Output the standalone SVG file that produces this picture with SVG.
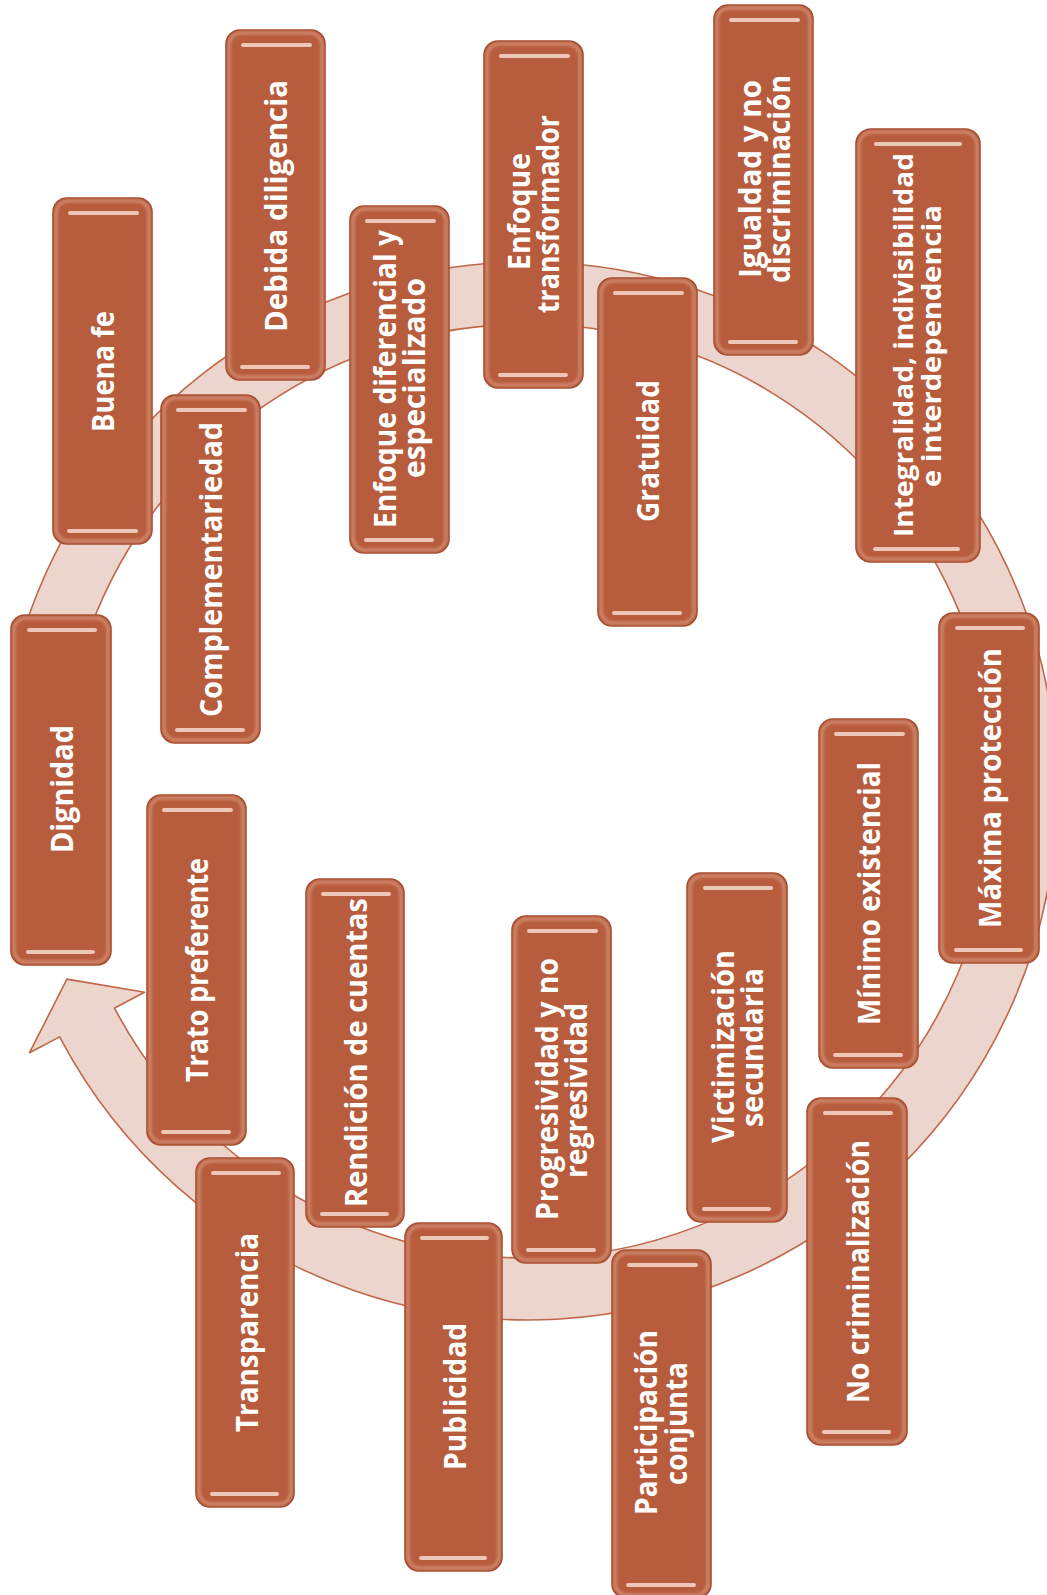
<svg xmlns="http://www.w3.org/2000/svg" width="1047" height="1595" viewBox="0 0 1047 1595">
<defs>
<filter id="soft" x="-10%" y="-10%" width="120%" height="120%"><feGaussianBlur stdDeviation="1.4"/></filter>
<filter id="hl" filterUnits="userSpaceOnUse" x="0" y="0" width="1047" height="1595"><feGaussianBlur stdDeviation="0.6"/></filter>
</defs>
<style>
.box{fill:#B75C3C;stroke:#A4472A;stroke-width:1.6}
.rim{fill:none;stroke:#E6AE97;stroke-width:3;opacity:0.6;filter:url(#soft)}
.hi{stroke:#F3D3C6;stroke-width:4;stroke-linecap:round;opacity:0.9;filter:url(#hl)}
.t{font-family:"Open Sans","Liberation Sans",sans-serif;font-weight:700;font-size:30px;fill:#FFFFFF;text-anchor:middle}
.ring{fill:#ECD5CC;stroke:#C0674A;stroke-width:1.6;stroke-linejoin:round}
</style>
<rect width="1047" height="1595" fill="#FFFFFF"/>
<g id="connectors">
<path class="ring" d="M 19.49 645.19 A 529 529 0 0 1 1025.10 610.07 A 529 529 0 0 1 59.63 1036.90 L 29.53 1052.70 L 66.92 979.16 L 144.63 992.28 L 114.52 1008.08 A 467 467 0 0 0 966.84 631.28 A 467 467 0 0 0 79.09 662.28 Z"/>
</g>

<g id="n-buena-fe">
<rect class="box" x="53" y="198" width="99" height="346" rx="14"/>
<rect class="rim" x="56" y="201" width="93" height="340" rx="12"/>
<line class="hi" x1="70" y1="213" x2="137" y2="213"/>
<line class="hi" x1="69" y1="531" x2="136" y2="531"/>
<g transform="translate(102,371.5) rotate(-90)"><text class="t" x="0" y="11.5" textLength="121" lengthAdjust="spacingAndGlyphs">Buena fe</text></g>
</g>

<g id="n-debida-diligencia">
<rect class="box" x="226" y="30" width="99" height="350" rx="14"/>
<rect class="rim" x="229" y="33" width="93" height="344" rx="12"/>
<line class="hi" x1="243" y1="45" x2="310" y2="45"/>
<line class="hi" x1="242" y1="367" x2="308" y2="367"/>
<g transform="translate(275.5,206) rotate(-90)"><text class="t" x="0" y="11.5" textLength="252" lengthAdjust="spacingAndGlyphs">Debida diligencia</text></g>
</g>

<g id="n-enfoque-diferencial">
<rect class="box" x="350" y="206" width="99" height="347" rx="14"/>
<rect class="rim" x="353" y="209" width="93" height="341" rx="12"/>
<line class="hi" x1="367" y1="221" x2="434" y2="221"/>
<line class="hi" x1="366" y1="540" x2="432" y2="540"/>
<g transform="translate(399.5,379) rotate(-90)"><text class="t" x="0" y="-3.5" textLength="298" lengthAdjust="spacingAndGlyphs">Enfoque diferencial y</text><text class="t" x="1" y="25.5" textLength="200" lengthAdjust="spacingAndGlyphs">especializado</text></g>
</g>

<g id="n-enfoque-transformador">
<rect class="box" x="484" y="41" width="99" height="347" rx="14"/>
<rect class="rim" x="487" y="44" width="93" height="341" rx="12"/>
<line class="hi" x1="501" y1="56" x2="568" y2="56"/>
<line class="hi" x1="500" y1="375" x2="566" y2="375"/>
<g transform="translate(533.5,213) rotate(-90)"><text class="t" x="1.5" y="-3.5" textLength="117" lengthAdjust="spacingAndGlyphs">Enfoque</text><text class="t" x="-1" y="25.5" textLength="198" lengthAdjust="spacingAndGlyphs">transformador</text></g>
</g>

<g id="n-igualdad">
<rect class="box" x="714" y="5" width="99" height="350" rx="14"/>
<rect class="rim" x="717" y="8" width="93" height="344" rx="12"/>
<line class="hi" x1="731" y1="20" x2="798" y2="20"/>
<line class="hi" x1="730" y1="342" x2="796" y2="342"/>
<g transform="translate(763.5,179) rotate(-90)"><text class="t" x="0" y="-2.5" textLength="198" lengthAdjust="spacingAndGlyphs">Igualdad y no</text><text class="t" x="0" y="26.5" textLength="208" lengthAdjust="spacingAndGlyphs">discriminación</text></g>
</g>

<g id="n-integralidad">
<rect class="box" x="856" y="129" width="124" height="433" rx="15"/>
<rect class="rim" x="859" y="132" width="118" height="427" rx="13"/>
<line class="hi" x1="876" y1="144" x2="960" y2="144"/>
<line class="hi" x1="875" y1="549" x2="958" y2="549"/>
<g transform="translate(918,345) rotate(-90)"><text class="t" style="font-size:27px" x="0" y="-5" textLength="384" lengthAdjust="spacingAndGlyphs">Integralidad, indivisibilidad</text><text class="t" style="font-size:27px" x="-1" y="23" textLength="282" lengthAdjust="spacingAndGlyphs">e interdependencia</text></g>
</g>

<g id="n-gratuidad">
<rect class="box" x="598" y="278" width="99" height="348" rx="14"/>
<rect class="rim" x="601" y="281" width="93" height="342" rx="12"/>
<line class="hi" x1="615" y1="293" x2="682" y2="293"/>
<line class="hi" x1="614" y1="613" x2="680" y2="613"/>
<g transform="translate(647.5,451) rotate(-90)"><text class="t" x="0" y="11.5" textLength="142" lengthAdjust="spacingAndGlyphs">Gratuidad</text></g>
</g>

<g id="n-complementariedad">
<rect class="box" x="161" y="395" width="99" height="348" rx="14"/>
<rect class="rim" x="164" y="398" width="93" height="342" rx="12"/>
<line class="hi" x1="178" y1="410" x2="245" y2="410"/>
<line class="hi" x1="177" y1="730" x2="243" y2="730"/>
<g transform="translate(210.5,569.5) rotate(-90)"><text class="t" x="0" y="11.5" textLength="295" lengthAdjust="spacingAndGlyphs">Complementariedad</text></g>
</g>

<g id="n-dignidad">
<rect class="box" x="11" y="615" width="100" height="350" rx="14"/>
<rect class="rim" x="14" y="618" width="94" height="344" rx="12"/>
<line class="hi" x1="29" y1="630" x2="95" y2="630"/>
<line class="hi" x1="28" y1="952" x2="93" y2="952"/>
<g transform="translate(61,789) rotate(-90)"><text class="t" x="0" y="11.5" textLength="128" lengthAdjust="spacingAndGlyphs">Dignidad</text></g>
</g>

<g id="n-maxima-proteccion">
<rect class="box" x="939" y="613" width="100" height="350" rx="14"/>
<rect class="rim" x="942" y="616" width="94" height="344" rx="12"/>
<line class="hi" x1="957" y1="628" x2="1023" y2="628"/>
<line class="hi" x1="956" y1="950" x2="1021" y2="950"/>
<g transform="translate(989,788) rotate(-90)"><text class="t" x="0" y="12" textLength="280" lengthAdjust="spacingAndGlyphs">Máxima protección</text></g>
</g>

<g id="n-minimo-existencial">
<rect class="box" x="819" y="719" width="99" height="349" rx="14"/>
<rect class="rim" x="822" y="722" width="93" height="343" rx="12"/>
<line class="hi" x1="836" y1="734" x2="903" y2="734"/>
<line class="hi" x1="835" y1="1055" x2="901" y2="1055"/>
<g transform="translate(868.5,893.5) rotate(-90)"><text class="t" x="0" y="11.5" textLength="263" lengthAdjust="spacingAndGlyphs">Mínimo existencial</text></g>
</g>

<g id="n-trato-preferente">
<rect class="box" x="147" y="795" width="99" height="350" rx="14"/>
<rect class="rim" x="150" y="798" width="93" height="344" rx="12"/>
<line class="hi" x1="164" y1="810" x2="231" y2="810"/>
<line class="hi" x1="163" y1="1132" x2="229" y2="1132"/>
<g transform="translate(196.5,970) rotate(-90)"><text class="t" x="0" y="11.5" textLength="224" lengthAdjust="spacingAndGlyphs">Trato preferente</text></g>
</g>

<g id="n-rendicion-cuentas">
<rect class="box" x="306" y="879" width="98" height="348" rx="14"/>
<rect class="rim" x="309" y="882" width="92" height="342" rx="12"/>
<line class="hi" x1="323" y1="894" x2="389" y2="894"/>
<line class="hi" x1="322" y1="1214" x2="387" y2="1214"/>
<g transform="translate(355,1052.5) rotate(-90)"><text class="t" x="0" y="12" textLength="309" lengthAdjust="spacingAndGlyphs">Rendición de cuentas</text></g>
</g>

<g id="n-progresividad">
<rect class="box" x="512" y="916" width="99" height="347" rx="14"/>
<rect class="rim" x="515" y="919" width="93" height="341" rx="12"/>
<line class="hi" x1="529" y1="931" x2="596" y2="931"/>
<line class="hi" x1="528" y1="1250" x2="594" y2="1250"/>
<g transform="translate(561.5,1089.5) rotate(-90)"><text class="t" x="0.5" y="-3.5" textLength="262" lengthAdjust="spacingAndGlyphs">Progresividad y no</text><text class="t" x="-1" y="25" textLength="175" lengthAdjust="spacingAndGlyphs">regresividad</text></g>
</g>

<g id="n-victimizacion">
<rect class="box" x="687" y="873" width="100" height="349" rx="14"/>
<rect class="rim" x="690" y="876" width="94" height="343" rx="12"/>
<line class="hi" x1="705" y1="888" x2="771" y2="888"/>
<line class="hi" x1="704" y1="1209" x2="769" y2="1209"/>
<g transform="translate(737.5,1047) rotate(-90)"><text class="t" x="0.5" y="-4" textLength="193" lengthAdjust="spacingAndGlyphs">Victimización</text><text class="t" x="-0.5" y="25" textLength="159" lengthAdjust="spacingAndGlyphs">secundaria</text></g>
</g>

<g id="n-no-criminalizacion">
<rect class="box" x="807" y="1098" width="100" height="347" rx="14"/>
<rect class="rim" x="810" y="1101" width="94" height="341" rx="12"/>
<line class="hi" x1="825" y1="1113" x2="891" y2="1113"/>
<line class="hi" x1="824" y1="1432" x2="889" y2="1432"/>
<g transform="translate(857,1271.5) rotate(-90)"><text class="t" x="0" y="11.5" textLength="263" lengthAdjust="spacingAndGlyphs">No criminalización</text></g>
</g>

<g id="n-transparencia">
<rect class="box" x="196" y="1158" width="98" height="349" rx="14"/>
<rect class="rim" x="199" y="1161" width="92" height="343" rx="12"/>
<line class="hi" x1="213" y1="1173" x2="279" y2="1173"/>
<line class="hi" x1="212" y1="1494" x2="277" y2="1494"/>
<g transform="translate(245,1332.5) rotate(-90)"><text class="t" x="0" y="12.5" textLength="199" lengthAdjust="spacingAndGlyphs">Transparencia</text></g>
</g>

<g id="n-publicidad">
<rect class="box" x="405" y="1223" width="97" height="348" rx="14"/>
<rect class="rim" x="408" y="1226" width="91" height="342" rx="12"/>
<line class="hi" x1="422" y1="1238" x2="487" y2="1238"/>
<line class="hi" x1="421" y1="1558" x2="485" y2="1558"/>
<g transform="translate(453.5,1396.5) rotate(-90)"><text class="t" x="0" y="12.5" textLength="147" lengthAdjust="spacingAndGlyphs">Publicidad</text></g>
</g>

<g id="n-participacion">
<rect class="box" x="612" y="1250" width="99" height="348" rx="14"/>
<rect class="rim" x="615" y="1253" width="93" height="342" rx="12"/>
<line class="hi" x1="629" y1="1265" x2="696" y2="1265"/>
<line class="hi" x1="628" y1="1585" x2="694" y2="1585"/>
<g transform="translate(661.5,1423) rotate(-90)"><text class="t" x="0.5" y="-4.5" textLength="185" lengthAdjust="spacingAndGlyphs">Participación</text><text class="t" x="-0.5" y="25" textLength="123" lengthAdjust="spacingAndGlyphs">conjunta</text></g>
</g>
</svg>
